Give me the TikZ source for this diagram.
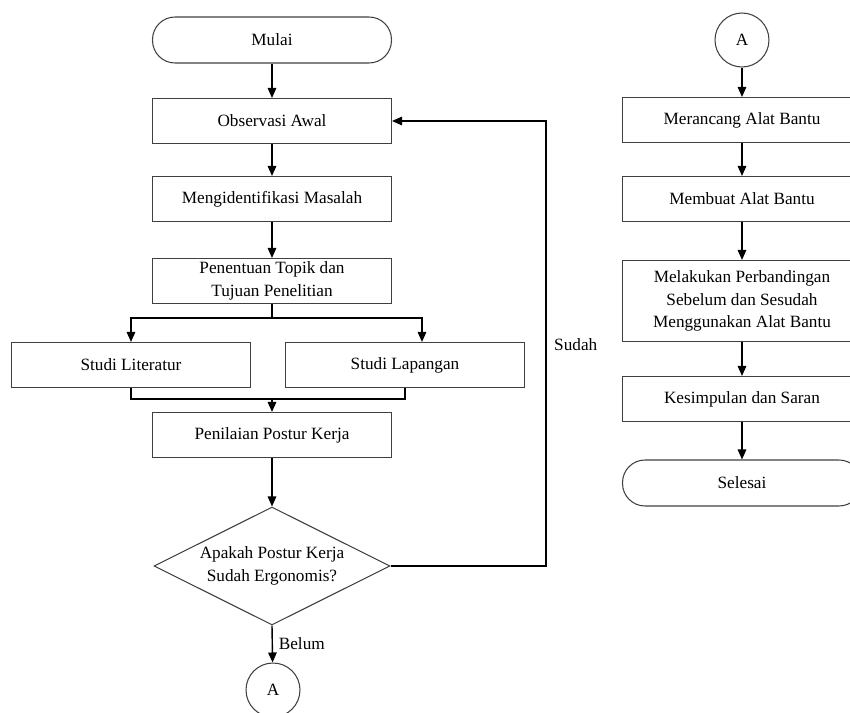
\documentclass[tikz,border=0pt]{standalone}
\usepackage{fontspec}
\setmainfont{Liberation Serif}
\usetikzlibrary{shapes.geometric,arrows.meta}

\tikzset{
    process/.style={draw=black!75, line width=0.6pt, rectangle, minimum width=4.78cm, minimum height=0.9cm, align=center, inner sep=1pt},
    terminal/.style={draw=black!75, line width=0.6pt, rectangle, rounded corners=0.45cm, minimum width=4.78cm, minimum height=0.92cm},
    decision/.style={draw=black!75, line width=0.6pt, diamond, minimum width=4.72cm, minimum height=2.36cm, inner sep=0pt},
    connector/.style={draw=black!75, line width=0.6pt, circle, minimum size=1.08cm, inner sep=0pt},
    flow/.style={->, line width=0.8pt},
    joint/.style={line width=0.8pt}
}

\begin{document}
\begin{tikzpicture}[>={Triangle[length=2mm,width=1.7mm]}, x=0.02cm, y=-0.02cm, font=\fontsize{9.8pt}{13pt}\selectfont]
    \useasboundingbox (0,0) rectangle (850,713);

        % Define nodes in the first column (left)
        \node[terminal] (mulai) at (272,40) {Mulai};
        \node[process] (obs) at (272,121) {Observasi Awal};
        \node[process] (ident) at (272,199) {Mengidentifikasi Masalah};
        \node[process] (topik) at (272,281) {Penentuan Topik dan\\Tujuan Penelitian};
        \node[process] (lit) at (131,365) {Studi Literatur};
        \node[process] (lap) at (405,365) {Studi Lapangan};
        \node[process] (nilai) at (272,435) {Penilaian Postur Kerja};
        \node[decision] (dec) at (272,566) {};
        \node[align=center] (dectext) at (272,566) {Apakah Postur Kerja\\Sudah Ergonomis?};
        \node[connector] (conA) at (273,690) {A};

        % Define helper points
        \coordinate (split) at (272,318);
        \coordinate (merge) at (272,399);
        \coordinate (back) at (546,121);

        % Define nodes in the second column (right)
        \node[connector] (conB) at (742,40) {A};
        \node[process] (rancang) at (742,120) {Merancang Alat Bantu};
        \node[process] (buat) at (742,199) {Membuat Alat Bantu};
        \node[process, minimum height=1.62cm] (banding) at (742,301) {Melakukan Perbandingan\\Sebelum dan Sesudah\\Menggunakan Alat Bantu};
        \node[process] (simpul) at (742,399) {Kesimpulan dan Saran};
        \node[terminal] (selesai) at (742,483) {Selesai};

        % Draw arrows in the first column
        \draw[flow] (mulai) -- (obs);
        \draw[flow] (obs) -- (ident);
        \draw[flow] (ident) -- (topik);
        \draw[joint] (topik.south) -- (split);
        \draw[flow] (split) -| (lit.north);
        \draw[flow] (split) -| ([xshift=0.34cm]lap.north);
        \draw[joint] (lit.south) |- (merge) -| (lap.south);
        \draw[flow] (merge) -- (nilai);
        \draw[flow] (nilai) -- (dec);
        \draw[flow] (dec.south) -- node[right] {Belum} (conA);
        \draw[flow] (dec.east) -| (back) -- (obs.east);
        \node[right] (sudah) at (548,345) {Sudah};

        % Draw arrows in the second column
        \draw[flow] (conB) -- (rancang);
        \draw[flow] (rancang) -- (buat);
        \draw[flow] (buat) -- (banding);
        \draw[flow] (banding) -- (simpul);
        \draw[flow] (simpul) -- (selesai);

    \end{tikzpicture}
\end{document}
